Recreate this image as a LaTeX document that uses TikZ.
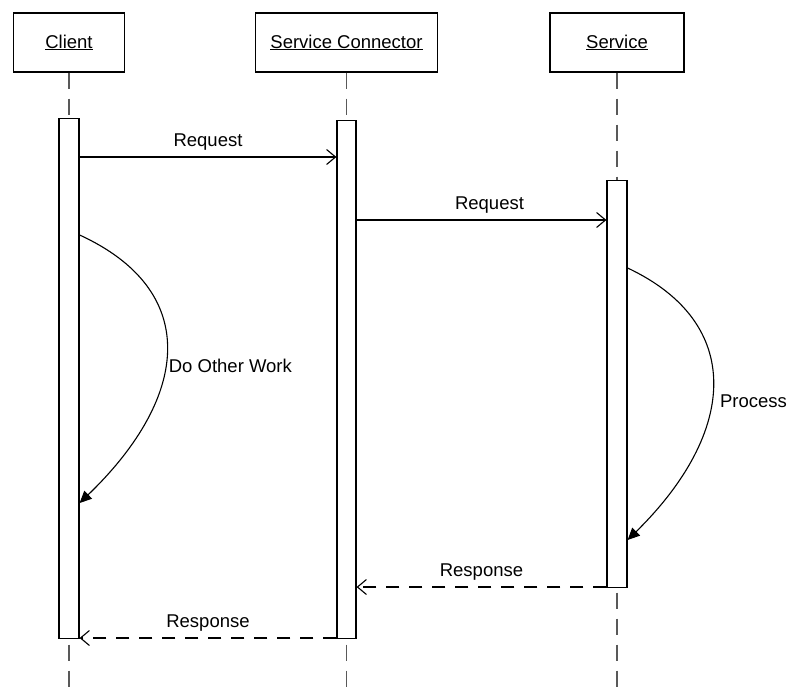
\documentclass[tikz,border=0pt]{standalone}
\usepackage{fontspec}
\setmainfont{Liberation Sans}
\usetikzlibrary{arrows.meta,calc,positioning}

\newcommand\PARTICIPANT[4] {
    % #1 name, #2 centre x, #3 width, #4 label
    \node[head,minimum width=#3] (#1) at (#2,42.5) {\underline{#4}};
    \draw[life] (#1.south) -- (#1.south |- bottom);
}

\begin{document}
\begin{tikzpicture}[x=1pt,y=-1pt
    , every node/.style={font=\fontsize{18.5}{22}\selectfont}
    , head/.style={draw,line width=1.3pt,minimum height=59pt,inner sep=0pt}
    , life/.style={draw=black!65,line width=1.1pt,dash pattern=on 16pt off 10pt}
    , act/.style={draw,fill=white,line width=1.2pt,minimum width=20pt,inner sep=0pt,anchor=north}
    , req/.style={line width=1.1pt,-{Straight Barb[length=9pt,width=15pt]}}
    , resp/.style={req,dash pattern=on 13pt off 10pt}
    , self/.style={line width=1.1pt,-{Triangle[length=12pt,width=11pt]}}
    ]
    \useasboundingbox (0,0) rectangle (791,693);
    \coordinate (bottom) at (0,693);

    % Participants and life lines.
    \PARTICIPANT{client}{69}{111}{Client}
    \PARTICIPANT{connector}{346.5}{182}{Service Connector}
    \PARTICIPANT{service}{617}{134}{Service}

    % Activation bars.
    \node[act,minimum height=520pt] (clientact) at (client.south |- 0,118) {};
    \node[act,minimum height=518pt,minimum width=19pt] (connact) at (connector.south |- 0,120) {};
    \node[act,minimum height=407pt] (serviceact) at (service.south |- 0,180) {};

    % Message levels.
    \coordinate (m1) at (0,157);
    \coordinate (m2) at (0,220);
    \coordinate (m3) at (0,587);
    \coordinate (m4) at (0,638);

    % Calls.
    \draw[req] (clientact.east |- m1) -- node[above=3pt] {Request} (connact.west |- m1);
    \draw[req] (connact.east |- m2) -- node[above=3pt,xshift=8pt] {Request} (serviceact.west |- m2);

    % Work done meanwhile.
    \draw[self] (clientact.east |- 0,235) .. controls +(120,55) and +(112,-108)
        .. node[pos=0.56,right=0pt] {Do Other Work} (clientact.east |- 0,503);
    \draw[self] (serviceact.east |- 0,268) .. controls +(117,55) and +(110,-108)
        .. node[pos=0.56,right=5pt] {Process} (serviceact.east |- 0,540);

    % Replies.
    \draw[resp] (serviceact.west |- m3) -- node[above=3pt] {Response} (connact.east |- m3);
    \draw[resp] (connact.west |- m4) -- node[above=3pt] {Response} (clientact.east |- m4);

\end{tikzpicture}
\end{document}
